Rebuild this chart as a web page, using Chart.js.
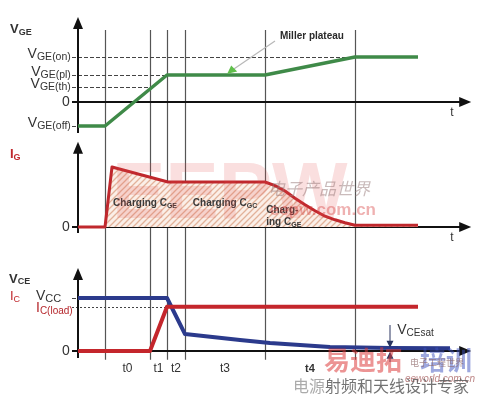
<!DOCTYPE html>
<html>
<head>
<meta charset="utf-8">
<script src="https://cdn.jsdelivr.net/npm/chart.js@4/dist/chart.umd.min.js"></script>
<style>
  html, body { margin: 0; padding: 0; background: #fff; }
  canvas { display: block; }
</style>
</head>
<body>
<canvas id="c" width="480" height="396"></canvas>
<script>
// time axis: interval borders (t0 start, t1, t2, t3, t4 start, t4 end)
const tBounds = [6.75, 18, 22.25, 26.75, 46.75, 69.25];
const tLabels = ['t0', 't1', 't2', 't3', 't4'];

// gate voltage levels
const vgeNames = ['GE(on)', 'GE(pl)', 'GE(th)', 'GE(off)'];
const vgeLevels = [15, 9, 5, -8];

// V_GE trace
const vgeX = [0, 6.75, 22.25, 46.75, 69.25, 85];
const vgeY = [-8, -8, 9, 9, 15, 15];

// I_G trace
const igX = [0, 6.75, 8.5, 22.5, 46.75, 49.25, 51.75, 54.25, 56.75, 59.25, 61.75, 64.25, 66.75, 69.25, 85];
const igY = [0, 0, 1.0, 0.75, 0.75, 0.69, 0.6, 0.48, 0.37, 0.27, 0.18, 0.12, 0.07, 0.03, 0.03];

// collector side
const VCC = 600;
const IC_LOAD = 500;
const icX = [0, 18, 22.25, 85];
const icY = [0, 0, 500, 500];
const vceX = [0, 22.25, 26.75, 40.5, 48, 63, 78, 93];
const vceY = [600, 600, 192, 125, 91, 45, 34, 30];

function pts(xs, ys) {
  return xs.map((x, i) => ({ x: x, y: ys[i] }));
}

const FONT = '"Liberation Sans", Arial, sans-serif';
const canvas = document.getElementById('c');
const ctx = canvas.getContext('2d');

// hatch used under the gate current
function hatch() {
  const p = document.createElement('canvas');
  p.width = 6; p.height = 6;
  const g = p.getContext('2d');
  g.fillStyle = '#fbefe8';
  g.fillRect(0, 0, 6, 6);
  g.strokeStyle = '#e2b29a';
  g.lineWidth = 1.3;
  g.beginPath();
  g.moveTo(0, 6); g.lineTo(6, 0);
  g.moveTo(-1, 1); g.lineTo(1, -1);
  g.moveTo(5, 7); g.lineTo(7, 5);
  g.stroke();
  return ctx.createPattern(p, 'repeat');
}

// y range so that value 0 lands on zeroPx and one unit is unitPx tall
// (chart area runs from 17 to 375)
function range(zeroPx, unitPx) {
  return { min: -(375 - zeroPx) / unitPx, max: (zeroPx - 17) / unitPx };
}
const rV = range(102, 3);
const rI = range(227, 60);
const rC = range(351, 53 / 600);

// text with a subscript part
function sub(c, main, s, x, y, o) {
  o = o || {};
  const big = (o.bold ? 'bold ' : '') + (o.size || 14) + 'px ' + FONT;
  const small = (o.bold ? 'bold ' : '') + (o.sub || 10) + 'px ' + FONT;
  c.font = big;
  const w1 = c.measureText(main).width;
  c.font = small;
  const w2 = c.measureText(s).width;
  let x0 = x;
  if (o.align === 'right') x0 = x - w1 - w2;
  if (o.align === 'center') x0 = x - (w1 + w2) / 2;
  c.fillStyle = o.color || '#333';
  c.textAlign = 'left';
  c.textBaseline = 'alphabetic';
  c.font = big;
  c.fillText(main, x0, y);
  c.font = small;
  c.fillText(s, x0 + w1, y + (o.drop == null ? 2.5 : o.drop));
}

function tri(c, x, y, dir, len, half, color) {
  c.fillStyle = color || '#111';
  c.beginPath();
  if (dir === 'up') { c.moveTo(x, y); c.lineTo(x - half, y + len); c.lineTo(x + half, y + len); }
  if (dir === 'down') { c.moveTo(x, y); c.lineTo(x - half, y - len); c.lineTo(x + half, y - len); }
  if (dir === 'right') { c.moveTo(x, y); c.lineTo(x - len, y - half); c.lineTo(x - len, y + half); }
  c.closePath();
  c.fill();
}

function line(c, x1, y1, x2, y2) {
  c.beginPath();
  c.moveTo(x1, y1);
  c.lineTo(x2, y2);
  c.stroke();
}

const decor = {
  id: 'decor',
  beforeDraw(chart) {
    const c = chart.ctx;
    c.save();
    c.fillStyle = '#fff';
    c.fillRect(0, 0, chart.width, chart.height);
    c.restore();
  },
  beforeDatasetsDraw(chart) {
    const c = chart.ctx;
    const sx = chart.scales.x, yV = chart.scales.yV, yI = chart.scales.yI, yC = chart.scales.yC;
    const x0 = sx.getPixelForValue(0);
    const tick = sx.getPixelForValue(-1.5);
    c.save();

    // time borders
    c.strokeStyle = '#555';
    c.lineWidth = 1.2;
    const top = yV.getPixelForValue(24), bottom = yC.getPixelForValue(-100);
    tBounds.forEach(b => {
      const x = Math.round(sx.getPixelForValue(b)) + 0.5;
      line(c, x, top, x, bottom);
    });

    // dashed reference levels
    c.strokeStyle = '#444';
    c.lineWidth = 1;
    c.setLineDash([4, 2]);
    const ends = [tBounds[5], tBounds[2], tBounds[1], 0];
    vgeLevels.forEach((v, i) => {
      const y = Math.round(yV.getPixelForValue(v)) + 0.5;
      line(c, tick, y, sx.getPixelForValue(ends[i]), y);
    });
    let y = Math.round(yC.getPixelForValue(VCC)) + 0.5;
    line(c, tick, y, x0, y);
    c.setLineDash([2, 2]);
    y = Math.round(yC.getPixelForValue(IC_LOAD)) + 0.5;
    line(c, tick, y, sx.getPixelForValue(tBounds[2]), y);
    c.setLineDash([]);

    // axes with arrows
    c.strokeStyle = '#111';
    c.lineWidth = 2;
    const panels = [
      { s: yV, top: chart.chartArea.top, bottom: yV.getPixelForValue(-10.3) },
      { s: yI, top: yI.getPixelForValue(1.42), bottom: yI.getPixelForValue(-0.1) },
      { s: yC, top: yC.getPixelForValue(940), bottom: yC.getPixelForValue(-80) }
    ];
    const tipX = sx.getPixelForValue(98.3);
    panels.forEach(p => {
      line(c, x0, p.top + 10, x0, p.bottom);
      tri(c, x0, p.top, 'up', 12, 5);
      const yz = p.s.getPixelForValue(0);
      line(c, tick, yz, tipX - 10, yz);
      tri(c, tipX, yz, 'right', 12, 5);
    });
    c.restore();
  },
  afterDatasetsDraw(chart) {
    const c = chart.ctx;
    const sx = chart.scales.x, yV = chart.scales.yV, yI = chart.scales.yI, yC = chart.scales.yC;
    const lx = sx.getPixelForValue(-1.8);
    c.save();

    // panel titles
    sub(c, 'V', 'GE', 10, 33, { bold: true, size: 13, sub: 9, drop: 1.5, color: '#333' });
    sub(c, 'I', 'G', 10, 158, { bold: true, size: 13, sub: 9, drop: 1.5, color: '#c0282d' });
    sub(c, 'V', 'CE', 9, 283, { bold: true, size: 13, sub: 9, drop: 1, color: '#333' });
    sub(c, 'I', 'C', 10, 300, { size: 13, sub: 9, drop: 1.5, color: '#c0282d' });

    // level labels
    vgeLevels.forEach((v, i) => {
      sub(c, 'V', vgeNames[i], lx, yV.getPixelForValue(v) + 0.5, { align: 'right', size: 14, sub: 10.5 });
    });
    c.font = '14px ' + FONT;
    c.fillStyle = '#333';
    c.textAlign = 'right';
    c.textBaseline = 'middle';
    [yV, yI, yC].forEach(s => c.fillText('0', lx - 1, s.getPixelForValue(0)));
    sub(c, 'V', 'CC', 36, yC.getPixelForValue(VCC) + 2, { size: 14, sub: 11, drop: 1.5 });
    sub(c, 'I', 'C(load)', 36, yC.getPixelForValue(IC_LOAD) + 5, { size: 14, sub: 10, drop: 2, color: '#b5262b' });

    // axis names
    c.font = '12px ' + FONT;
    c.fillStyle = '#333';
    c.textAlign = 'center';
    c.textBaseline = 'middle';
    c.fillText('t', sx.getPixelForValue(93.5), yV.getPixelForValue(-3.5));
    c.fillText('t', sx.getPixelForValue(93.5), yI.getPixelForValue(-0.17));

    // interval names
    tLabels.forEach((t, i) => {
      const xm = sx.getPixelForValue((tBounds[i] + tBounds[i + 1]) / 2);
      c.font = (t === 't4' ? 'bold 11px ' : '12px ') + FONT;
      c.fillText(t, xm, yC.getPixelForValue(-200));
    });

    // charging areas
    const cg = { bold: true, size: 10, sub: 7, drop: 2, color: '#3a3a3a' };
    sub(c, 'Charging C', 'GE', sx.getPixelForValue((tBounds[0] + tBounds[3]) / 2), yI.getPixelForValue(0.35), Object.assign({ align: 'center' }, cg));
    sub(c, 'Charging C', 'GC', sx.getPixelForValue((tBounds[3] + tBounds[4]) / 2), yI.getPixelForValue(0.35), Object.assign({ align: 'center' }, cg));
    c.font = 'bold 10px ' + FONT;
    c.fillStyle = '#3a3a3a';
    c.textAlign = 'left';
    c.textBaseline = 'alphabetic';
    c.fillText('Charg-', sx.getPixelForValue(tBounds[4] + 0.3), yI.getPixelForValue(0.24));
    sub(c, 'ing C', 'GE', sx.getPixelForValue(tBounds[4] + 0.3), yI.getPixelForValue(0.04), cg);

    // Miller plateau pointer
    c.strokeStyle = '#b8b8b8';
    c.lineWidth = 1.2;
    line(c, sx.getPixelForValue(49.25), yV.getPixelForValue(20.3), sx.getPixelForValue(38.5), yV.getPixelForValue(10.6));
    c.fillStyle = '#5fbf4a';
    c.beginPath();
    c.moveTo(sx.getPixelForValue(37.3), yV.getPixelForValue(9.4));
    c.lineTo(sx.getPixelForValue(38.3), yV.getPixelForValue(12.2));
    c.lineTo(sx.getPixelForValue(39.8), yV.getPixelForValue(10.2));
    c.closePath();
    c.fill();
    c.font = 'bold 10px ' + FONT;
    c.fillStyle = '#2a2a2a';
    c.fillText('Miller plateau', sx.getPixelForValue(50.5), yV.getPixelForValue(21));

    // V_CEsat marker
    const xs = sx.getPixelForValue(78);
    c.strokeStyle = '#2a3560';
    c.lineWidth = 1;
    line(c, xs, yC.getPixelForValue(294), xs, yC.getPixelForValue(60));
    tri(c, xs, yC.getPixelForValue(36), 'down', 7, 3.5, '#2a3560');
    line(c, xs, yC.getPixelForValue(-125), xs, yC.getPixelForValue(-30));
    tri(c, xs, yC.getPixelForValue(-8), 'up', 7, 3.5, '#2a3560');
    sub(c, 'V', 'CEsat', sx.getPixelForValue(79.8), yC.getPixelForValue(192), { size: 14, sub: 10, drop: 2, color: '#333' });

    // site watermarks
    c.textAlign = 'left';
    c.textBaseline = 'alphabetic';
    c.font = 'bold 80px ' + FONT;
    c.fillStyle = 'rgba(225, 80, 80, 0.18)';
    c.fillText('EEPW', 112, 218);
    c.font = 'italic 17px "Noto Sans CJK SC"';
    c.fillStyle = 'rgba(150, 120, 120, 0.5)';
    c.fillText('电子产品世界', 268, 195);
    c.font = 'bold 17px ' + FONT;
    c.fillStyle = 'rgba(215, 60, 60, 0.4)';
    c.textAlign = 'right';
    c.fillText('eepw.com.cn', 376, 215);
    c.font = 'bold 26px "Noto Sans CJK SC"';
    c.fillStyle = 'rgba(220, 60, 60, 0.55)';
    c.textAlign = 'left';
    c.fillText('易迪拓', 324, 370);
    c.fillStyle = 'rgba(60, 80, 190, 0.5)';
    c.fillText('培训', 420, 370);
    c.font = '9px "Noto Sans CJK SC"';
    c.fillStyle = 'rgba(140, 100, 100, 0.7)';
    c.fillText('电子工程世界', 410, 366);
    c.font = 'italic 10px ' + FONT;
    c.fillStyle = 'rgba(160, 80, 80, 0.7)';
    c.fillText('eeworld.com.cn', 405, 382);
    c.font = '16px "Noto Sans CJK SC"';
    c.fillStyle = 'rgba(150, 150, 150, 0.8)';
    c.fillText('电源', 293, 392);
    c.fillStyle = 'rgba(90, 90, 90, 0.85)';
    c.fillText('射频和天线设计专家', 325, 392);
    c.restore();
  }
};

new Chart(canvas, {
  type: 'line',
  data: {
    datasets: [
      {
        label: 'IC',
        data: pts(icX, icY),
        yAxisID: 'yC',
        borderColor: '#c4262c',
        borderWidth: 4,
        order: 1
      },
      {
        label: 'VCE',
        data: pts(vceX, vceY),
        yAxisID: 'yC',
        borderColor: '#2b3a8c',
        borderWidth: 4,
        order: 2
      },
      {
        label: 'VGE',
        data: pts(vgeX, vgeY),
        yAxisID: 'yV',
        borderColor: '#3f8a48',
        borderWidth: 3.5,
        order: 3
      },
      {
        label: 'IG',
        data: pts(igX, igY),
        yAxisID: 'yI',
        borderColor: '#c0282d',
        borderWidth: 3,
        backgroundColor: hatch(),
        fill: 'origin',
        order: 4
      }
    ]
  },
  options: {
    responsive: false,
    animation: false,
    devicePixelRatio: 1,
    layout: { padding: { left: 78, right: 10, top: 17, bottom: 21 } },
    elements: { point: { radius: 0 }, line: { tension: 0, borderJoinStyle: 'round' } },
    plugins: { legend: { display: false }, tooltip: { enabled: false } },
    scales: {
      x: { type: 'linear', min: 0, max: 98, display: false },
      yV: { type: 'linear', min: rV.min, max: rV.max, display: false },
      yI: { type: 'linear', min: rI.min, max: rI.max, display: false },
      yC: { type: 'linear', min: rC.min, max: rC.max, display: false }
    }
  },
  plugins: [decor]
});
</script>
</body>
</html>
